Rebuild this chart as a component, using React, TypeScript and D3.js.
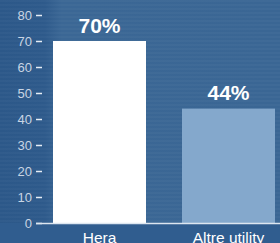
import React, { useEffect, useRef } from 'react';
import * as d3 from 'd3';

const categories = ['Hera', 'Altre utility'];
const values = [70, 44];
const valueLabels = ['70%', '44%'];
const barColors = ['#ffffff', '#84a8cc'];
const yTicks = [0, 10, 20, 30, 40, 50, 60, 70, 80];

export default function App() {
  const ref = useRef<SVGSVGElement>(null);

  useEffect(() => {
    const width = 280;
    const height = 243;
    const margin = { top: 15, right: 5, bottom: 20, left: 42 };
    const font = 'Helvetica, Arial, "Liberation Sans", sans-serif';

    const svg = d3.select(ref.current);
    svg.selectAll('*').remove();
    svg.attr('width', width).attr('height', height);

    const defs = svg.append('defs');
    const grad = defs.append('linearGradient')
      .attr('id', 'bg')
      .attr('x1', 0).attr('x2', 1).attr('y1', 0).attr('y2', 0);
    grad.append('stop').attr('offset', '0%').attr('stop-color', '#2c5889');
    grad.append('stop').attr('offset', '16%').attr('stop-color', '#2e5a8b');
    grad.append('stop').attr('offset', '22%').attr('stop-color', '#3b6795');
    grad.append('stop').attr('offset', '100%').attr('stop-color', '#3a6694');

    const stripes = defs.append('pattern')
      .attr('id', 'stripes')
      .attr('width', 4).attr('height', 4)
      .attr('patternUnits', 'userSpaceOnUse');
    stripes.append('rect').attr('width', 4).attr('height', 2).attr('fill', 'rgba(255,255,255,0.025)');

    svg.append('rect').attr('width', width).attr('height', height).attr('fill', 'url(#bg)');
    svg.append('rect').attr('width', width).attr('height', height).attr('fill', 'url(#stripes)');

    const innerBottom = height - margin.bottom; // 223

    const y = d3.scaleLinear().domain([0, 80]).range([innerBottom, margin.top]);
    const x = d3.scaleBand()
      .domain(categories)
      .range([53, 275])
      .paddingInner(0.279)
      .paddingOuter(0);

    // bottom band
    svg.append('rect')
      .attr('x', 0).attr('y', innerBottom)
      .attr('width', width).attr('height', height - innerBottom)
      .attr('fill', '#305d8f');

    const yAxis = d3.axisLeft(y).tickValues(yTicks).tickSize(6).tickPadding(4);
    const gy = svg.append('g')
      .attr('transform', `translate(${margin.left},0)`)
      .call(yAxis);
    gy.select('.domain').remove();
    gy.selectAll('.tick line').attr('stroke', '#e6edf5').attr('stroke-width', 1.5);
    gy.selectAll('.tick text')
      .attr('fill', '#c9d5e4')
      .style('font-family', font)
      .style('font-size', '13px');

    const data = categories.map((c, i) => ({ c, v: values[i], label: valueLabels[i], color: barColors[i] }));

    svg.selectAll('rect.bar')
      .data(data)
      .enter()
      .append('rect')
      .attr('class', 'bar')
      .attr('x', d => x(d.c)!)
      .attr('y', d => y(d.v))
      .attr('width', x.bandwidth())
      .attr('height', d => innerBottom - y(d.v))
      .attr('fill', d => d.color);

    svg.append('line')
      .attr('x1', 36).attr('x2', width)
      .attr('y1', innerBottom + 0.5).attr('y2', innerBottom + 0.5)
      .attr('stroke', '#dde6f0').attr('stroke-width', 1.5);

    svg.selectAll('text.val')
      .data(data)
      .enter()
      .append('text')
      .attr('class', 'val')
      .attr('x', d => x(d.c)! + x.bandwidth() / 2)
      .attr('y', d => y(d.v) - 8.5)
      .attr('text-anchor', 'middle')
      .attr('fill', '#ffffff')
      .style('font-family', font)
      .style('font-weight', 'bold')
      .style('font-size', '21px')
      .text(d => d.label);

    svg.selectAll('text.cat')
      .data(data)
      .enter()
      .append('text')
      .attr('class', 'cat')
      .attr('x', d => x(d.c)! + x.bandwidth() / 2)
      .attr('y', innerBottom + 20)
      .attr('text-anchor', 'middle')
      .attr('fill', '#ffffff')
      .style('font-family', font)
      .style('font-size', '15.5px')
      .text(d => d.c);
  }, []);

  return (
    <div style={{ position: 'fixed', left: 0, top: 0 }}>
      <svg ref={ref} style={{ display: 'block' }} />
    </div>
  );
}
